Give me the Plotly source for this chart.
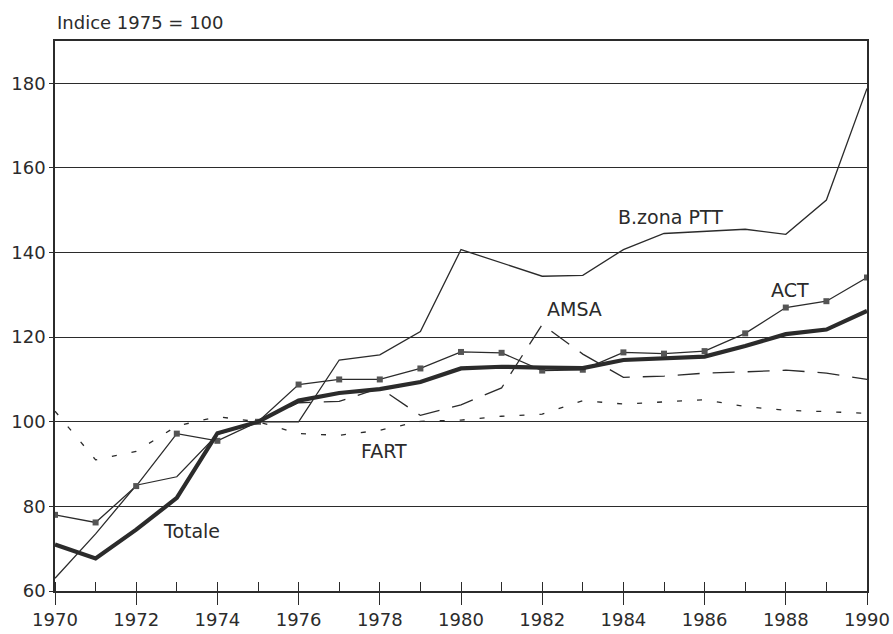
import plotly.graph_objects as go

# index values, 1975 = 100
years = list(range(1970, 1991))
totale = [71, 67.7, 74.5, 82, 97.3, 100, 105, 106.8, 107.7, 109.4, 112.6, 113, 112.8, 112.7,
          114.6, 115, 115.4, 117.9, 120.7, 121.8, 126.2]
act = [78, 76.2, 84.8, 97.2, 95.5, 100, 108.8, 110, 110, 112.6, 116.5, 116.3, 112.1, 112.3,
       116.4, 116.1, 116.7, 120.9, 127, 128.5, 134.1]
bzona = [63, 73.5, 85, 87, 97, 100, 100, 114.6, 115.8, 121.3, 140.7, 137.6, 134.4, 134.6,
         140.7, 144.5, 145, 145.5, 144.3, 152.4, 178.8]
amsa_years = list(range(1975, 1991))
amsa = [100, 104.5, 104.8, 108, 101.5, 104, 108, 123, 116, 110.5, 110.8, 111.5, 111.8, 112.2,
        111.5, 110]
fart = [102.5, 91, 93, 99, 101.2, 100, 97.2, 96.8, 98, 100.1, 100.4, 101.3, 101.8, 105,
        104.2, 104.7, 105.2, 103.6, 102.7, 102.4, 102]

# label positions (year, value)
labels = [("B.zona PTT", 1985.15, 148.4), ("ACT", 1988.1, 131.1), ("AMSA", 1982.8, 126.6),
          ("FART", 1978.1, 93), ("Totale", 1973.35, 74.3)]

ink = "#2b2b2b"
font = "DejaVu Sans"

fig = go.Figure()
fig.add_trace(go.Scatter(x=years, y=bzona, mode="lines", line=dict(color=ink, width=1.3)))
fig.add_trace(go.Scatter(x=amsa_years, y=amsa, mode="lines",
                         line=dict(color=ink, width=1.3, dash="22px,13px")))
fig.add_trace(go.Scatter(x=years, y=fart, mode="lines", xaxis="x2",
                         line=dict(color=ink, width=1.3, dash="5px,15px")))
fig.add_trace(go.Scatter(x=years, y=act, mode="lines+markers",
                         line=dict(color=ink, width=1.3),
                         marker=dict(symbol="square", size=6, color="#555555")))
fig.add_trace(go.Scatter(x=years, y=totale, mode="lines", line=dict(color=ink, width=4.2)))

for txt, xx, yy in labels:
    fig.add_annotation(x=xx, y=yy, text=txt, showarrow=False,
                       font=dict(family=font, size=19, color=ink))

fig.add_annotation(x=0, y=1, xref="paper", yref="paper", xanchor="left", yanchor="bottom",
                   yshift=6, text="Indice 1975 = 100", showarrow=False,
                   font=dict(family=font, size=18, color=ink))

fig.update_layout(
    width=893, height=634,
    margin=dict(l=55, r=26, t=41, b=43),
    paper_bgcolor="white", plot_bgcolor="white",
    showlegend=False,
    font=dict(family=font, size=18, color=ink),
    xaxis=dict(range=[1970, 1990], dtick=2, tick0=1970, ticks="outside", ticklen=12,
               tickwidth=1.3, tickcolor=ink, showgrid=False, zeroline=False,
               showline=True, linecolor=ink, linewidth=1.5, mirror=True, automargin=False,
               minor=dict(ticks="inside", dtick=1, tick0=1970, ticklen=9,
                          tickcolor=ink, tickwidth=1.2),
               tickfont=dict(family=font, size=18, color=ink)),
    xaxis2=dict(range=[1970, 1990], overlaying="x", anchor="y", side="bottom",
                dtick=2, tick0=1970, ticks="inside", ticklen=9, tickwidth=1.3,
                tickcolor=ink, showticklabels=False, showgrid=False, zeroline=False,
                showline=False, automargin=False),
    yaxis=dict(range=[60, 190], dtick=20, tick0=60, ticks="outside", ticklen=4,
               tickcolor=ink, showgrid=True, gridcolor=ink, gridwidth=1.2, automargin=False,
               zeroline=False, showline=True, linecolor=ink, linewidth=1.5, mirror=True,
               tickfont=dict(family=font, size=18, color=ink)),
)

# drop the default 8px body margin so the figure fills the window exactly
fig.write_html("out.html", config={"displayModeBar": False},
               post_script="document.body.style.margin='0';")
